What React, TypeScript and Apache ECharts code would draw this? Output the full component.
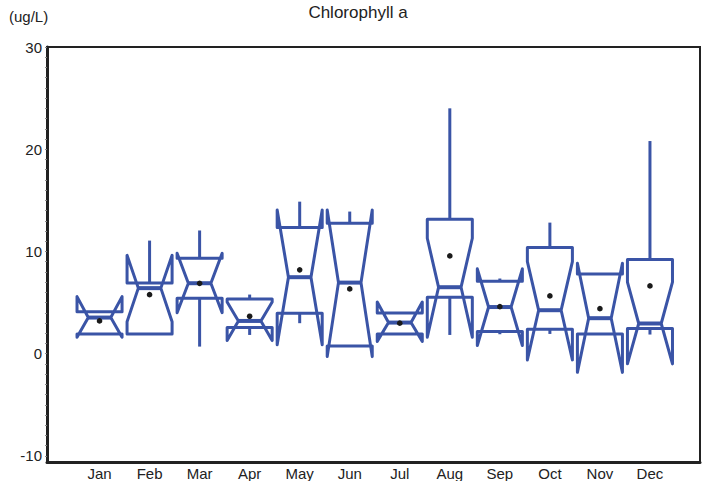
import React, { useEffect, useRef } from "react";
import * as echarts from "echarts";

const months = ["Jan", "Feb", "Mar", "Apr", "May", "Jun", "Jul", "Aug", "Sep", "Oct", "Nov", "Dec"];
const q1 = [1.93, 1.93, 5.42, 2.55, 3.95, 0.76, 1.93, 5.52, 2.16, 2.39, 1.93, 2.45];
const median = [3.53, 6.41, 6.89, 3.2, 7.48, 6.95, 3.04, 6.5, 4.56, 4.25, 3.47, 2.95];
const q3 = [4.11, 6.92, 9.33, 5.35, 12.33, 12.76, 3.98, 13.15, 7.08, 10.39, 7.8, 9.2];
const notchLow = [1.61, 3.13, 4.01, 1.28, 0.86, -0.29, 1.2, 1.61, 0.8, -0.61, -1.83, -1.0];
const notchHigh = [5.58, 9.62, 9.82, 5.05, 14.06, 14.06, 5.05, 11.29, 8.3, 9.0, 8.85, 7.0];
const whiskerLow = [1.93, 1.93, 0.69, 1.83, 2.98, 0.76, 1.93, 1.83, 1.9, 1.93, 1.93, 1.87];
const whiskerHigh = [4.11, 11.06, 12.05, 5.78, 14.87, 13.9, 3.98, 24.0, 7.35, 12.82, 7.8, 20.8];
const means = [3.2, 5.77, 6.88, 3.66, 8.2, 6.33, 2.98, 9.56, 4.6, 5.65, 4.4, 6.63];
const yLabelTicks = [-10, 0, 10, 20, 30];
const yMinorTicks = Array.from({ length: 41 }, (_, i) => i - 10);

const BLUE = "#3a54a6";
const FONT = "'Liberation Sans', Arial, sans-serif";

export default function App() {
  const ref = useRef<HTMLDivElement>(null);
  useEffect(() => {
    document.body.style.margin = "0";
    const chart = echarts.init(ref.current!, null, { renderer: "svg" });
    const data = months.map((_, i) => [
      i + 1, q1[i], median[i], q3[i], notchLow[i], notchHigh[i], whiskerLow[i], whiskerHigh[i], means[i],
    ]);
    const renderItem = (params: any, api: any) => {
      const x = api.value(0);
      const vq1 = api.value(1), vmed = api.value(2), vq3 = api.value(3);
      const vnl = api.value(4), vnh = api.value(5), vwl = api.value(6), vwh = api.value(7), vmean = api.value(8);
      const y = (v: number) => api.coord([x, v])[1];
      const cx = api.coord([x, 0])[0];
      const hw = api.size([0.9, 0])[0] / 2;
      const L = cx - hw, R = cx + hw, Lm = cx - hw / 2, Rm = cx + hw / 2;
      const pts = [
        [L, y(vq1)], [L, y(vnl)], [Lm, y(vmed)], [L, y(vnh)], [L, y(vq3)],
        [R, y(vq3)], [R, y(vnh)], [Rm, y(vmed)], [R, y(vnl)], [R, y(vq1)],
      ];
      const children: any[] = [
        {
          type: "polygon",
          shape: { points: pts },
          style: { fill: "none", stroke: BLUE, lineWidth: 3, lineJoin: "round" },
        },
        {
          type: "line",
          shape: { x1: Lm, y1: y(vmed), x2: Rm, y2: y(vmed) },
          style: { stroke: BLUE, lineWidth: 4 },
        },
      ];
      if (vwh > vq3) {
        children.push({
          type: "line",
          shape: { x1: cx, y1: y(vq3), x2: cx, y2: y(vwh) },
          style: { stroke: BLUE, lineWidth: 3 },
        });
      }
      if (vwl < vq1) {
        children.push({
          type: "line",
          shape: { x1: cx, y1: y(vq1), x2: cx, y2: y(vwl) },
          style: { stroke: BLUE, lineWidth: 3 },
        });
      }
      children.push({
        type: "circle",
        shape: { cx, cy: y(vmean), r: 2.8 },
        style: { fill: "#1a1a1a" },
      });
      return { type: "group", children };
    };
    chart.setOption({
      animation: false,
      backgroundColor: "#ffffff",
      textStyle: { fontFamily: FONT },
      grid: {
        left: 47, right: 2, top: 47, bottom: 18.5,
        show: true, borderColor: "#222", borderWidth: 2, backgroundColor: "transparent",
      },
      graphic: [
        {
          type: "text", x: 358, y: 12,
          style: { text: "Chlorophyll a", fontSize: 17, fill: "#222", align: "center", verticalAlign: "middle", fontFamily: FONT },
        },
        {
          type: "text", x: 9, y: 16,
          style: { text: "(ug/L)", fontSize: 15, fill: "#222", align: "left", verticalAlign: "middle", fontFamily: FONT },
        },
      ],
      xAxis: {
        type: "value", min: -0.05, max: 13,
        axisLine: { show: true, onZero: false, lineStyle: { color: "#222", width: 3 } },
        axisTick: { show: false },
        splitLine: { show: false },
        axisLabel: {
          customValues: months.map((_, i) => i + 1),
          formatter: (v: number) => months[Math.round(v) - 1] ?? "",
          fontSize: 15, color: "#222", margin: 4, fontFamily: FONT,
        },
      },
      yAxis: {
        type: "value", min: -10.6, max: 30,
        axisLine: { show: true, onZero: false, lineStyle: { color: "#222", width: 3 } },
        axisTick: { show: true, customValues: yMinorTicks, length: 2, lineStyle: { color: "#888", width: 1 } },
        splitLine: { show: false },
        axisLabel: {
          customValues: yLabelTicks,
          fontSize: 15, color: "#222", margin: 5, fontFamily: FONT,
        },
      },
      series: [
        {
          type: "custom",
          renderItem,
          data,
          encode: { x: 0, y: [1, 2, 3, 4, 5, 6, 7, 8] },
          clip: false,
        },
      ],
    });
    return () => chart.dispose();
  }, []);
  return <div ref={ref} style={{ width: 702, height: 481 }} />;
}
